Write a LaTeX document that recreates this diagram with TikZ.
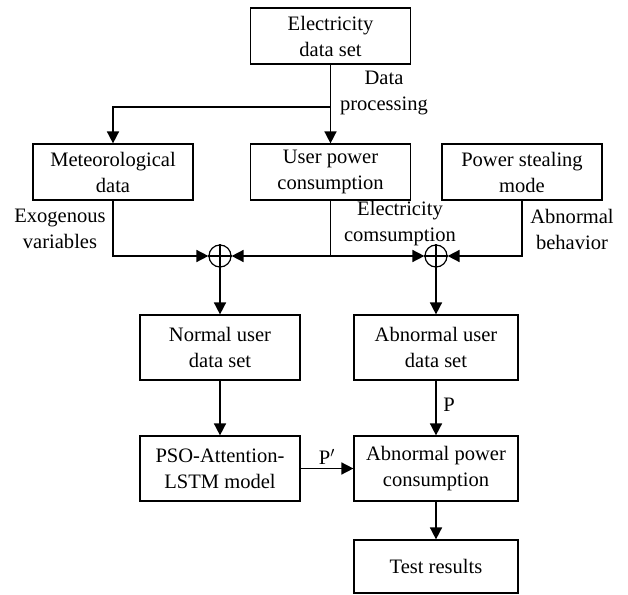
\documentclass[tikz,border=0pt]{standalone}
\usepackage{fontspec}
\setmainfont{Liberation Serif}
\usetikzlibrary{arrows.meta}
\begin{document}
\begin{tikzpicture}[x=0.75pt,y=-0.75pt,
  every node/.style={font=\fontsize{15.4pt}{19.5pt}\selectfont},
  box/.style={draw,line width=0.9pt,align=center,inner sep=0pt,minimum width=120pt,minimum height=42pt},
  tallbox/.style={box,minimum height=48.75pt},
  widebox/.style={tallbox,minimum width=123pt},
  lbl/.style={align=center,inner sep=0pt},
  wire/.style={line width=1.2pt},
  arr/.style={wire,-{Triangle[length=9pt,width=9pt]}},
  sumnode/.style={draw,circle,line width=0.9pt,minimum size=16.5pt,inner sep=0pt}
]
\useasboundingbox (0,0) rectangle (628,595);

% boxes
\node[box] (elec) at (330.5,36) {Electricity\\data set};
\node[box] (meteo) at (113,172) {Meteorological\\data};
\node[box] (user) at (330.5,172) {User power\\consumption};
\node[box] (steal) at (522,172) {Power stealing\\mode};
\node[tallbox] (normal) at (220,347.5) {Normal user\\data set};
\node[widebox] (abuser) at (436,347.5) {Abnormal user\\data set};
\node[tallbox] (pso) at (220,468.5) {PSO-Attention-\\LSTM model};
\node[widebox] (abpow) at (436,468.5) {Abnormal power\\consumption};
\node[widebox,minimum height=39.75pt] (test) at (436,566.5) {Test results};

% summing junctions
\node[sumnode] (c1) at (220,256) {};
\node[sumnode] (c2) at (436,256) {};
\draw[line width=0.9pt] (c1.west) -- (c1.east) (c1.north) -- (c1.south);
\draw[line width=0.9pt] (c2.west) -- (c2.east) (c2.north) -- (c2.south);

% data processing split
\coordinate (split) at (330.5,107);
\draw[arr] (elec.south) -- (user.north);
\draw[arr] (split) -| (meteo.north);

% inputs to the junctions
\coordinate (uj) at (user.south |- c1);
\draw[arr] (meteo.south) |- (c1.west);
\draw[wire] (user.south) -- (uj);
\draw[arr] (uj) -- (c1.east);
\draw[arr] (uj) -- (c2.west);
\draw[arr] (steal.south) |- (c2.east);

% lower flow
\draw[arr] (c1.south) -- (normal.north);
\draw[arr] (c2.south) -- (abuser.north);
\draw[arr] (normal.south) -- (pso.north);
\draw[arr] (abuser.south) -- (abpow.north);
\draw[arr] (pso.east) -- (abpow.west);
\draw[arr] (abpow.south) -- (test.north);

% labels
\node[lbl] (ldp) at (384,93) {Data\\processing};
\node[lbl] (lexo) at (60,229) {Exogenous\\variables};
\node[lbl] (lec) at (400,224) {Electricity\\comsumption};
\node[lbl] (lab) at (572,229) {Abnormal\\behavior};
\node[lbl] (lp) at (449,405) {P};
\node[lbl] (lpp) at (327,457) {P$'$};
\end{tikzpicture}
\end{document}
